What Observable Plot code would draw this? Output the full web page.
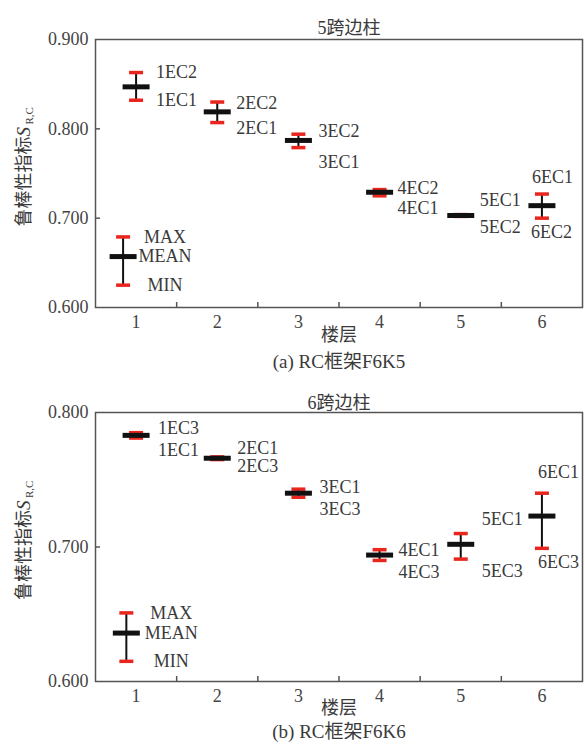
<!DOCTYPE html>
<html><head><meta charset="utf-8">
<script src="https://cdn.jsdelivr.net/npm/d3@7"></script>
<script src="https://cdn.jsdelivr.net/npm/@observablehq/plot@0.6"></script>
<style>body{margin:0;background:#fff;} svg{display:block;}</style>
</head><body><div id="chart"></div>
<script>
// ---------- data ----------
const floors = [1, 2, 3, 4, 5, 6];
const xTickLabels = ["1", "2", "3", "4", "5", "6"];

// (a) RC框架F6K5 — 5跨边柱
const titleA = "5跨边柱";
const captionA = "(a) RC框架F6K5";
const yTicksA = [0.6, 0.7, 0.8, 0.9];
const meanA = [0.847, 0.819, 0.787, 0.729, 0.703, 0.714];
const maxA  = [0.863, 0.830, 0.794, 0.732, 0.704, 0.727];
const minA  = [0.832, 0.807, 0.779, 0.725, 0.702, 0.700];
const maxLabelA = ["1EC2", "2EC2", "3EC2", "4EC2", "5EC1", "6EC1"];
const minLabelA = ["1EC1", "2EC1", "3EC1", "4EC1", "5EC2", "6EC2"];
const legendA = {x: 0.84, max: 0.679, mean: 0.657, min: 0.625};

// (b) RC框架F6K6 — 6跨边柱
const titleB = "6跨边柱";
const captionB = "(b) RC框架F6K6";
const yTicksB = [0.6, 0.7, 0.8];
const meanB = [0.783, 0.766, 0.740, 0.694, 0.702, 0.723];
const maxB  = [0.785, 0.767, 0.743, 0.698, 0.710, 0.740];
const minB  = [0.781, 0.765, 0.737, 0.690, 0.691, 0.699];
const maxLabelB = ["1EC3", "2EC1", "3EC1", "4EC1", "5EC1", "6EC1"];
const minLabelB = ["1EC1", "2EC3", "3EC3", "4EC3", "5EC3", "6EC3"];
const legendB = {x: 0.88, max: 0.651, mean: 0.636, min: 0.615};

const legendNames = ["MAX", "MEAN", "MIN"];
const xLabel = "楼层";
const yLabelMain = "鲁棒性指标";
const yLabelS = "S";
const yLabelSub = "R,C";

// ---------- styles (pixel offsets of the point labels) ----------
const labelOffA = {
  max: [[20, 0], [19, 1], [20, -3], [18, -1], [19, -14], [-10, -16.5]],
  min: [[20, 0], [19, 6], [20, 15], [18, 12], [19, 11], [-11, 14]]
};
const labelOffB = {
  max: [[22, -4], [20, -9], [21, -2], [19, 1], [21, -14], [-4, -21]],
  min: [[22, 12], [20, 7], [21, 12], [19, 12], [21, 12], [-4, 14]]
};

const FONT = "\"Liberation Serif\", \"Times New Roman\", \"Noto Sans CJK SC\", serif";
const TXT = "#3a3a3a";
const RED = "#e8261e";
const FRAME = "#555";

const hbar = {draw(ctx, size) { const r = Math.sqrt(size / Math.PI); ctx.moveTo(-r, 0); ctx.lineTo(r, 0); }};

function panel(cfg) {
  const rows = floors.map((f, i) => ({floor: f, mean: cfg.mean[i], max: cfg.max[i], min: cfg.min[i]}));
  const leg = [{floor: cfg.legend.x, mean: cfg.legend.mean, max: cfg.legend.max, min: cfg.legend.min}];
  const all = rows.concat(leg);
  const labelMarks = [];
  floors.forEach((f, i) => {
    labelMarks.push(Plot.text([rows[i]], {x: "floor", y: "max", text: () => cfg.maxLabel[i],
      dx: cfg.off.max[i][0], dy: cfg.off.max[i][1], textAnchor: "start",
      fontSize: 18, fontFamily: FONT, fill: TXT}));
    labelMarks.push(Plot.text([rows[i]], {x: "floor", y: "min", text: () => cfg.minLabel[i],
      dx: cfg.off.min[i][0], dy: cfg.off.min[i][1], textAnchor: "start",
      fontSize: 18, fontFamily: FONT, fill: TXT}));
  });
  const legKeys = ["max", "mean", "min"];
  const legLabels = legKeys.map((k, j) =>
    Plot.text(leg, {x: "floor", y: k, text: () => legendNames[j], dx: cfg.legDx, dy: cfg.legDy[j],
      textAnchor: "middle", fontSize: 18, fontFamily: FONT, fill: TXT}));
  const yMid = cfg.yTicks.filter(v => v > cfg.ydom[0] && v < cfg.ydom[1]);
  return Plot.plot({
    width: 585, height: cfg.height,
    marginLeft: 95, marginRight: 3, marginTop: cfg.mt, marginBottom: cfg.mb,
    style: {fontFamily: FONT, background: "#fff"},
    x: {domain: [0.5, 6.5]},
    y: {domain: cfg.ydom},
    marks: [
      Plot.axisY({ticks: cfg.yTicks, tickFormat: ".3f", tickSize: 0, tickPadding: 7, label: null,
        fontSize: 18, fontFamily: FONT, fill: "#444"}),
      Plot.axisY({ticks: yMid, tickFormat: () => "", tickSize: -5, label: null, stroke: FRAME, strokeWidth: 1.5}),
      Plot.axisX({ticks: floors, tickFormat: (d, i) => xTickLabels[i], tickSize: 0, tickPadding: 8, label: null,
        fontSize: 18, fontFamily: FONT, fill: "#444"}),
      Plot.axisX({ticks: [1.5, 2.5, 3.5, 4.5, 5.5], tickFormat: () => "", tickSize: -5, label: null,
        stroke: FRAME, strokeWidth: 1.5}),
      Plot.frame({stroke: FRAME, strokeWidth: 1.5}),
      Plot.ruleX(all, {x: "floor", y1: "min", y2: "max", stroke: "#111", strokeWidth: 2}),
      Plot.dot(all, {x: "floor", y: "max", symbol: hbar, r: 7, stroke: RED, strokeWidth: 3.5, fill: "none"}),
      Plot.dot(all, {x: "floor", y: "min", symbol: hbar, r: 7, stroke: RED, strokeWidth: 3.5, fill: "none"}),
      Plot.dot(all, {x: "floor", y: "mean", symbol: hbar, r: 13.5, stroke: "#111", strokeWidth: 5, fill: "none"}),
      ...labelMarks,
      ...legLabels,
      Plot.text([cfg.title], {frameAnchor: "top", dx: cfg.titleDx, dy: cfg.titleDy, fontSize: 18, fontFamily: FONT, fill: TXT}),
      Plot.text([xLabel], {frameAnchor: "bottom", dy: cfg.xlabDy, fontSize: 18, fontFamily: FONT, fill: TXT}),
      Plot.text([cfg.caption], {frameAnchor: "bottom", dy: cfg.capDy, fontSize: 19, fontFamily: FONT, fill: TXT}),
      Plot.text([yLabelMain], {frameAnchor: "left", rotate: -90, textAnchor: "end", dx: -71.5, dy: cfg.ylabDy,
        fontSize: 18, fontFamily: FONT, fill: TXT}),
      Plot.text([yLabelS], {frameAnchor: "left", rotate: -90, textAnchor: "start", dx: -71.5, dy: cfg.ylabDy, fontStyle: "italic",
        fontSize: 19, fontFamily: FONT, fill: TXT}),
      Plot.text([yLabelSub], {frameAnchor: "left", rotate: -90, textAnchor: "start", dx: -66, dy: cfg.ylabDy - 12,
        fontSize: 11, fontFamily: FONT, fill: TXT})
    ]
  });
}

const root = document.getElementById("chart");
root.appendChild(panel({
  mean: meanA, max: maxA, min: minA, maxLabel: maxLabelA, minLabel: minLabelA, off: labelOffA,
  legend: legendA, legDx: 42, legDy: [0, 0, 0], yTicks: yTicksA, ydom: [0.6, 0.9],
  height: 378, mt: 39, mb: 71, title: titleA, caption: captionA,
  titleDx: 10, titleDy: -18, xlabDy: 33, capDy: 60, ylabDy: -37
}));
root.appendChild(panel({
  mean: meanB, max: maxB, min: minB, maxLabel: maxLabelB, minLabel: minLabelB, off: labelOffB,
  legend: legendB, legDx: 45, legDy: [0, 0, 0], yTicks: yTicksB, ydom: [0.6, 0.8],
  height: 367, mt: 34, mb: 64, title: titleB, caption: captionB,
  titleDx: 0, titleDy: -16, xlabDy: 32, capDy: 56, ylabDy: -37
}));
</script></body></html>
